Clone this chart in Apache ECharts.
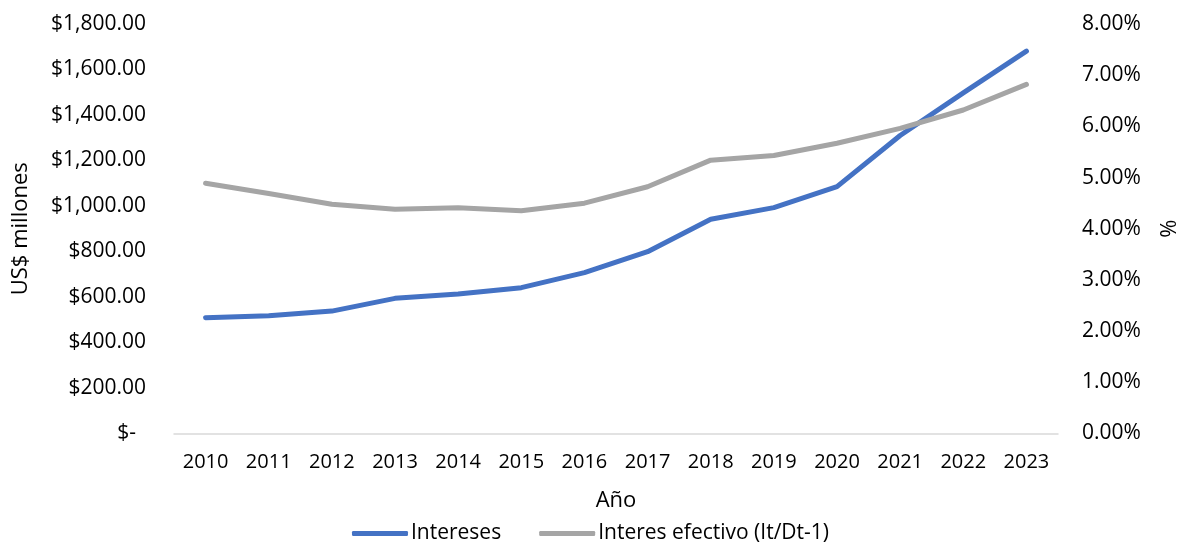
<!DOCTYPE html>
<html>
<head>
<meta charset="utf-8">
<script src="https://cdn.jsdelivr.net/npm/echarts@6/dist/echarts.min.js"></script>
<style>
  html, body { margin: 0; padding: 0; background: #ffffff; }
  #chart { width: 1181px; height: 543px; }
</style>
</head>
<body>
<div id="chart"></div>
<script>
// Años del eje X
const years = ['2010', '2011', '2012', '2013', '2014', '2015', '2016',
               '2017', '2018', '2019', '2020', '2021', '2022', '2023'];
// Intereses pagados (US$ millones)
const intereses = [509, 518, 538, 594, 613, 641, 707, 799, 942, 993, 1085, 1310, 1497, 1681];
// Interés efectivo It/Dt-1 (%)
const interesEfectivo = [4.89, 4.69, 4.48, 4.38, 4.41, 4.35, 4.50, 4.82, 5.34, 5.43, 5.67, 5.96, 6.32, 6.82];

const leftTicks = { min: 0, max: 1800, interval: 200 };
const rightTicks = { min: 0, max: 8, interval: 1 };

const FONT = '"Open Sans", "Noto Sans", sans-serif';
const TEXT = '#000000';

function money(v) {
  if (v === 0) return '{z|$-}';
  return '$' + v.toLocaleString('en-US', { minimumFractionDigits: 2, maximumFractionDigits: 2 });
}

const chart = echarts.init(document.getElementById('chart'), null, { renderer: 'canvas' });
chart.setOption({
  backgroundColor: '#ffffff',
  animation: false,
  textStyle: { fontFamily: FONT, color: TEXT },
  grid: { left: 174, right: 123, top: 24, bottom: 109.5, containLabel: false, outerBoundsMode: 'none' },
  legend: {
    data: ['Intereses', 'Interes efectivo (It/Dt-1)'],
    top: 518,
    left: 'center',
    icon: 'roundRect',
    itemWidth: 56,
    itemHeight: 5,
    itemGap: 38,
    textStyle: { fontFamily: FONT, fontSize: 21, color: TEXT, padding: [0, 0, 0, -2] }
  },
  xAxis: {
    type: 'category',
    data: years,
    boundaryGap: true,
    name: 'Año',
    nameLocation: 'middle',
    nameGap: 56,
    nameTextStyle: { fontFamily: FONT, fontSize: 22, color: TEXT },
    axisLine: { show: true, lineStyle: { color: '#D9D9D9', width: 1.5 } },
    axisTick: { show: false },
    axisLabel: { fontFamily: FONT, fontSize: 20, color: TEXT, margin: 19 },
    splitLine: { show: false }
  },
  yAxis: [
    {
      type: 'value',
      position: 'left',
      min: leftTicks.min, max: leftTicks.max, interval: leftTicks.interval,
      name: 'US$ millones',
      nameLocation: 'middle',
      nameRotate: 90,
      nameGap: 142,
      nameTextStyle: { fontFamily: FONT, fontSize: 22, color: TEXT },
      axisLine: { show: false },
      axisTick: { show: false },
      splitLine: { show: false },
      axisLabel: {
        fontFamily: FONT, fontSize: 21, color: TEXT, margin: 28,
        formatter: money,
        rich: { z: { fontFamily: FONT, fontSize: 21, color: TEXT, padding: [0, 10, 0, 0] } }
      }
    },
    {
      type: 'value',
      position: 'right',
      min: rightTicks.min, max: rightTicks.max, interval: rightTicks.interval,
      name: '%',
      nameLocation: 'middle',
      nameRotate: 90,
      nameGap: 101,
      nameTextStyle: { fontFamily: FONT, fontSize: 22, color: TEXT },
      axisLine: { show: false },
      axisTick: { show: false },
      splitLine: { show: false },
      axisLabel: {
        fontFamily: FONT, fontSize: 21, color: TEXT, margin: 24,
        formatter: v => v.toFixed(2) + '%'
      }
    }
  ],
  series: [
    {
      name: 'Intereses',
      type: 'line',
      yAxisIndex: 0,
      data: intereses,
      symbol: 'none',
      color: '#4472C4',
      lineStyle: { color: '#4472C4', width: 5, cap: 'round', join: 'round' },
      z: 2
    },
    {
      name: 'Interes efectivo (It/Dt-1)',
      type: 'line',
      yAxisIndex: 1,
      data: interesEfectivo,
      symbol: 'none',
      color: '#A5A5A5',
      lineStyle: { color: '#A5A5A5', width: 5, cap: 'round', join: 'round' },
      z: 3
    }
  ]
});
</script>
</body>
</html>
